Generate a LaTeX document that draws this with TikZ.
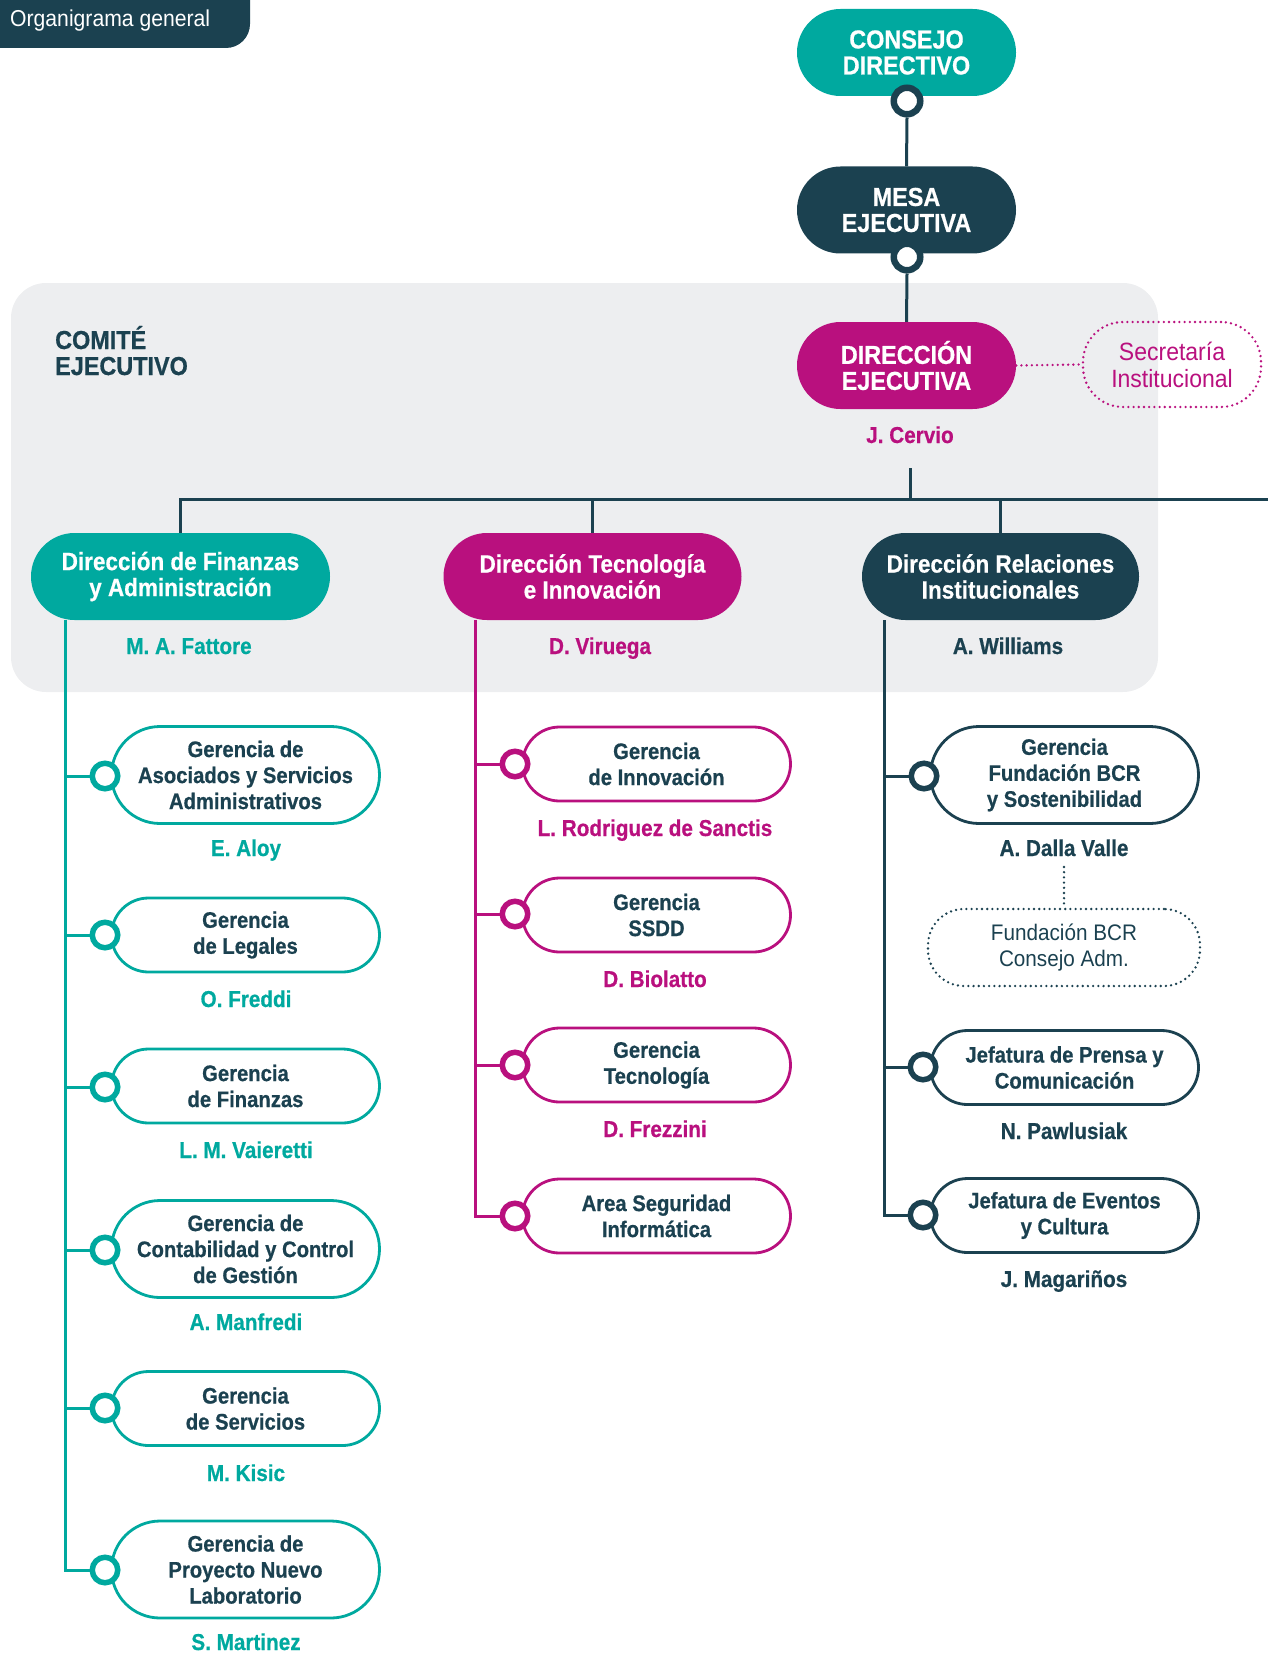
\documentclass[tikz,border=0pt]{standalone}
\usepackage{fontspec}
\setmainfont{Liberation Sans}
\newfontfamily\condb{Liberation Sans}[FakeStretch=0.9, BoldFeatures={FakeBold=0.6}]
\newfontfamily\condr{Liberation Sans}[FakeStretch=0.92]
\newcommand\myfbig{\condb\bfseries\fontsize{26}{26}\selectfont}
\newcommand\myfdir{\condb\bfseries\fontsize{25}{26}\selectfont}
\newcommand\myfsub{\condb\bfseries\fontsize{22.5}{26}\selectfont}
\newcommand\myfname{\condb\bfseries\fontsize{23}{26}\selectfont}
\newcommand\myfreg{\condr\fontsize{22.5}{26}\selectfont}
\newcommand\myfsec{\condr\fontsize{25}{27}\selectfont}
\newcommand\myfhead{\condr\fontsize{23}{26}\selectfont}
\definecolor{tl}{HTML}{00A99F}
\definecolor{mg}{HTML}{B9107E}
\definecolor{dk}{HTML}{1B4150}
\definecolor{pg}{HTML}{EDEEF0}
\tikzset{
 pill/.style={rectangle, inner sep=0pt, align=center},
 topbox/.style={pill, minimum width=219pt, minimum height=87pt, rounded corners=43.5pt, text=white, font=\myfbig},
 dirbox/.style={pill, minimum height=87pt, rounded corners=43.5pt, text=white, font=\myfdir, execute at begin node={\rule{0pt}{34pt}}},
 subbox/.style={pill, draw, line width=2.8pt, fill=white, minimum width=268pt, text=dk, font=\myfsub},
 two/.style={minimum height=74pt, rounded corners=37pt},
 three/.style={minimum height=97pt, rounded corners=48.5pt},
 ring/.style={circle, draw, fill=white, line width=5.5pt, minimum size=25.5pt, inner sep=0pt},
 bigring/.style={circle, draw=dk, fill=white, line width=6.5pt, minimum size=26.5pt, inner sep=0pt},
 person/.style={anchor=base, inner sep=0pt, font=\myfname},
 link/.style={line width=3pt},
 dots/.style={line width=2.6pt, line cap=round, dash pattern=on 0pt off 5.2pt},
}
\begin{document}
\begin{tikzpicture}[x=1pt, y=-1pt]
\useasboundingbox (0,0) rectangle (1268,1653);
\clip (0,0) rectangle (1268,1653);
% panel and header
\fill[pg, rounded corners=35pt] (11,283) rectangle (1158,692);
\fill[dk, rounded corners=24pt] (-40,-40) rectangle (250,48);
\node[anchor=base west, inner sep=0pt, text=white, font=\myfhead] (head) at (10,27) {Organigrama general};
\node[anchor=base west, inner sep=0pt, text=dk, font=\myfbig, align=left] (comite) at (55,375) {COMITÉ\\EJECUTIVO};

% top chain
\node[topbox, fill=tl] (cd) at (906.5,52.5) {CONSEJO\\DIRECTIVO};
\node[topbox, fill=dk] (me) at (906.5,210) {MESA\\EJECUTIVA};
\node[topbox, fill=mg] (de) at (906.5,365.5) {DIRECCIÓN\\EJECUTIVA};
\node[pill, draw=mg, dots, minimum width=178pt, minimum height=85pt, rounded corners=40pt, text=mg, font=\myfsec] (sec) at (1172,364.5) {Secretaría\\Institucional};
\node[person, text=mg] (cervio) at (910,443) {J. Cervio};
\node[bigring] (r1) at (907,101) {};
\node[bigring] (r2) at (907,257) {};
\draw[dk, link] (r1.south) -- (me.north);
\draw[dk, link] (r2.south) -- (de.north);
\draw[mg, dots] (de.east) -- (sec.west);

% directions
\node[dirbox, fill=tl, minimum width=299pt] (dfa) at (180.5,576.5) {Dirección de Finanzas\\y Administración};
\node[dirbox, fill=mg, minimum width=298pt] (dti) at (592.5,576.5) {Dirección Tecnología\\e Innovación};
\node[dirbox, fill=dk, minimum width=277pt] (dri) at (1000.5,576.5) {Dirección Relaciones\\Institucionales};
\node[person, text=tl] (pfa) at (189,654) {M. A. Fattore};
\node[person, text=mg] (pti) at (600,654) {D. Viruega};
\node[person, text=dk] (pri) at (1008,654) {A. Williams};

\coordinate (busR) at (1268,499);
\draw[dk, link] ([yshift=-25pt]cervio.base) -- (cervio.base |- busR);
\draw[dk, link] (dfa.north) |- (busR);
\draw[dk, link] (dti.north) -- (dti.north |- busR);
\draw[dk, link] (dri.north) -- (dri.north |- busR);

% left column
\node[subbox, three, draw=tl] (l1) at (245.5,775) {Gerencia de\\Asociados y Servicios\\Administrativos};
\node[subbox, two, draw=tl] (l2) at (245.5,935) {Gerencia\\de Legales};
\node[subbox, two, draw=tl] (l3) at (245.5,1086) {Gerencia\\de Finanzas};
\node[subbox, three, draw=tl] (l4) at (245.5,1249) {Gerencia de\\Contabilidad y Control\\de Gestión};
\node[subbox, two, draw=tl] (l5) at (245.5,1408.5) {Gerencia\\de Servicios};
\node[subbox, three, draw=tl] (l6) at (245.5,1569.5) {Gerencia de\\Proyecto Nuevo\\Laboratorio};
\node[person, text=tl] (pl1) at (246,856) {E. Aloy};
\node[person, text=tl] (pl2) at (246,1007) {O. Freddi};
\node[person, text=tl] (pl3) at (246,1158) {L. M. Vaieretti};
\node[person, text=tl] (pl4) at (246,1330) {A. Manfredi};
\node[person, text=tl] (pl5) at (246,1481) {M. Kisic};
\node[person, text=tl] (pl6) at (246,1650) {S. Martinez};
\node[ring, draw=tl] (rl1) at (105,776) {};
\node[ring, draw=tl] (rl2) at (105,935) {};
\node[ring, draw=tl] (rl3) at (105,1087) {};
\node[ring, draw=tl] (rl4) at (105,1250) {};
\node[ring, draw=tl] (rl5) at (105,1408) {};
\node[ring, draw=tl] (rl6) at (105,1570) {};
\coordinate (tfa) at ([xshift=-115.5pt]dfa.south);
\draw[tl, link] (tfa) |- (rl6.west);
\foreach \r in {rl1,rl2,rl3,rl4,rl5} \draw[tl, link] (\r.west) -- (\r.west -| tfa);

% middle column
\node[subbox, two, draw=mg] (m1) at (656.5,764) {Gerencia\\de Innovación};
\node[subbox, two, draw=mg] (m2) at (656.5,915) {Gerencia\\SSDD};
\node[subbox, two, draw=mg] (m3) at (656.5,1065) {Gerencia\\Tecnología};
\node[subbox, two, draw=mg] (m4) at (656.5,1216) {Area Seguridad\\Informática};
\node[person, text=mg] (pm1) at (655,836) {L. Rodriguez de Sanctis};
\node[person, text=mg] (pm2) at (655,987) {D. Biolatto};
\node[person, text=mg] (pm3) at (655,1137) {D. Frezzini};
\node[ring, draw=mg] (rm1) at (515,764) {};
\node[ring, draw=mg] (rm2) at (515,914) {};
\node[ring, draw=mg] (rm3) at (515,1065) {};
\node[ring, draw=mg] (rm4) at (515,1216) {};
\coordinate (tti) at ([xshift=-117.5pt]dti.south);
\draw[mg, link] (tti) |- (rm4.west);
\foreach \r in {rm1,rm2,rm3} \draw[mg, link] (\r.west) -- (\r.west -| tti);

% right column
\node[subbox, three, draw=dk] (q1) at (1064.5,775) {Gerencia\\Fundación BCR\\y Sostenibilidad};
\node[pill, draw=dk, dots, minimum width=272pt, minimum height=77pt, rounded corners=36pt, text=dk, font=\myfreg] (fb) at (1064,947.5) {Fundación BCR\\Consejo Adm.};
\node[subbox, two, draw=dk] (q2) at (1064.5,1067.5) {Jefatura de Prensa y\\Comunicación};
\node[subbox, two, draw=dk] (q3) at (1064.5,1215.5) {Jefatura de Eventos\\y Cultura};
\node[person, text=dk] (pq1) at (1064,856) {A. Dalla Valle};
\node[person, text=dk] (pq2) at (1064,1139) {N. Pawlusiak};
\node[person, text=dk] (pq3) at (1064,1287) {J. Magariños};
\node[ring, draw=dk] (rq1) at (924,776) {};
\node[ring, draw=dk] (rq2) at (923,1067) {};
\node[ring, draw=dk] (rq3) at (923,1215) {};
\draw[dk, dots] ([yshift=-11pt]pq1.base) -- (fb.north);
\coordinate (tri) at ([xshift=-116.5pt]dri.south);
\draw[dk, link] (tri) |- (rq3.west);
\foreach \r in {rq1,rq2} \draw[dk, link] (\r.west) -- (\r.west -| tri);
\end{tikzpicture}
\end{document}
